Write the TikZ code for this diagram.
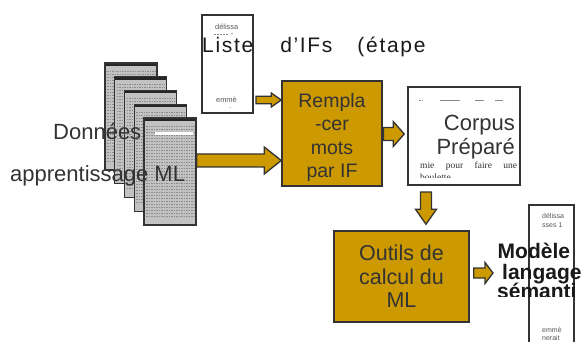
\documentclass[tikz,border=0pt]{standalone}
\usepackage{fontspec}
\setmainfont{Liberation Sans}
\newfontfamily\serifdoc{Liberation Serif}
\newfontfamily\spacedfont[LetterSpace=8]{Liberation Sans}
\usetikzlibrary{calc}
\definecolor{gold}{HTML}{CC9900}
\definecolor{ink}{HTML}{333333}
\definecolor{smallgray}{HTML}{555555}
\tikzset{
	box/.style={draw=ink, fill=gold, line width=1.5pt, inner sep=0pt},
	boxtext/.style={align=center, text=ink, inner sep=0pt},
	doc/.style={draw=ink, fill=white, line width=1.5pt, inner sep=0pt},
	page/.style={draw=black!80, fill=black!24, line width=1.3pt, minimum width=52pt, minimum height=107pt, inner sep=0pt,
		path picture={
			\fill[black!85] (path picture bounding box.north west) rectangle ([yshift=-3]path picture bounding box.north east);
			\foreach \k in {1,...,31}
				\draw[black!45, line width=0.6pt, dash pattern=on 1.5pt off 1pt] ([xshift=2,yshift={-5-3*\k}]path picture bounding box.north west) -- ([xshift=-2,yshift={-5-3*\k}]path picture bounding box.north east);
		}},
	blockarrow/.style={draw=ink, fill=gold, line width=1.3pt, line join=miter},
	small/.style={text=smallgray, font=\fontsize{7.4}{8.5}\selectfont, inner sep=0pt},
	big/.style={text=ink, font=\fontsize{22}{24}\selectfont, inner sep=0pt},
	modeltext/.style={anchor=base west, inner sep=0pt, font=\bfseries\fontsize{21}{22}\selectfont, text=black!90},
}
% horizontal block arrow: start, end, half shaft, half head, head length
\newcommand{\hblock}[5]{%
	\draw[blockarrow] let \p1=(#1), \p2=(#2) in
		(\x1,\y1-#3) -- (\x2-#5,\y1-#3) -- (\x2-#5,\y1-#4) -- (\x2,\y1)
		-- (\x2-#5,\y1+#4) -- (\x2-#5,\y1+#3) -- (\x1,\y1+#3) -- cycle;}
% downward block arrow
\newcommand{\vblock}[5]{%
	\draw[blockarrow] let \p1=(#1), \p2=(#2) in
		(\x1-#3,\y1) -- (\x1-#3,\y2+#5) -- (\x1-#4,\y2+#5) -- (\x1,\y2)
		-- (\x1+#4,\y2+#5) -- (\x1+#3,\y2+#5) -- (\x1+#3,\y1) -- cycle;}
\begin{document}
\begin{tikzpicture}[x=1pt,y=-1pt]
	\useasboundingbox (0,0) rectangle (581,342);
	\clip (0,0) rectangle (581,342);
	% training pages
	\foreach \i in {0,...,4}
		\node[page] (page\i) at ({131+9.75*\i},{116.5+13.75*\i}) {};
	\fill[white] ([xshift=12,yshift=-15]page4.north west) rectangle ([xshift=-4,yshift=-17.5]page4.north east);
	\node[big, anchor=base west] (donnees) at (53,140) {Données};
	\node[big, anchor=base west] (appr) at (10,182) {apprentissage ML};
	% list of IFs
	\node[doc, minimum width=51pt, minimum height=98pt] (liste) at (227.5,64) {};
	\node[small, anchor=base west] (lst1) at (215,29.5) {délissa};
	\draw[smallgray!70, line width=0.5pt, dash pattern=on 2pt off 1pt] (214,34) -- (229,34);
	\fill[smallgray] (232,33.5) circle (0.6);
	\node[small, anchor=base west] (lst2) at (216,103) {emmè};
	\fill[smallgray!70] (230,107.5) circle (0.5);
	\node[anchor=base west, inner sep=0pt, text=black!90, font=\fontsize{21}{24}\spacedfont] (listetitle) at (202,53)
		{Liste\hspace{27pt}d’IFs\hspace{25pt}(étape};
	% replacement step
	\node[box, minimum width=100pt, minimum height=105pt] (rempla) at (332,133.5) {};
	\node[boxtext, font=\fontsize{19.5}{23.5}\selectfont] (rempltxt) at ([yshift=-4]rempla.center)
		{Rempla\\-cer\\mots\\par IF};
	% prepared corpus
	\node[doc, minimum width=112pt, minimum height=98pt] (corpus) at (464,136) {};
	\foreach \a/\b in {419/420.5,421.5/423,440/460,475/484,495/503}
		\draw[smallgray!70, line width=0.6pt] (\a,100) -- (\b,100);
	\node[big, anchor=base east] (corpus1) at (515,131) {Corpus};
	\node[big, anchor=base east] (corpus2) at (515,155) {Préparé};
	\node[anchor=base west, inner sep=0pt, text=ink, font=\serifdoc\fontsize{9.5}{11}\selectfont] (corpus3) at (420,168)
		{\makebox[97pt][s]{mie pour faire une}};
	\begin{scope}
		\clip (410,160) rectangle (518,177.5);
		\node[anchor=base west, inner sep=0pt, text=ink, font=\serifdoc\fontsize{9.5}{11}\selectfont] (corpus4) at (420,180.5) {boulette};
	\end{scope}
	% ML tools
	\node[box, minimum width=135pt, minimum height=91pt] (outils) at (401.5,276.5) {};
	\node[boxtext, font=\fontsize{21.5}{23.5}\selectfont] (outiltxt) at (outils.center)
		{Outils de\\calcul du\\ML};
	% semantic language model
	\node[doc, minimum width=45pt, minimum height=160pt] (model) at (551.5,285) {};
	\node[small, anchor=base west, font=\fontsize{7}{8}\selectfont] (mod1) at (542,218) {délissa};
	\node[small, anchor=base west, font=\fontsize{7}{8}\selectfont] (mod2) at (542,227) {sses 1};
	\node[small, anchor=base west, font=\fontsize{7}{8}\selectfont] (mod3) at (542,332) {emmè};
	\node[small, anchor=base west, font=\fontsize{7}{8}\selectfont] (mod4) at (542,340.5) {nerait};
	\begin{scope}
		\clip (480,230) rectangle (581,296);
		\node[modeltext] (model1) at (497.5,258) {Modèle};
		\node[modeltext] (model2) at (502,279) {langage};
		\node[modeltext] (model3) at (497,298.5) {sémanti};
	\end{scope}
	% connectors
	\coordinate (a1) at (0,160.5);
	\coordinate (l1) at (256,100);
	\coordinate (c1) at (383.5,134);
	\coordinate (d1) at (426,192);
	\coordinate (e1) at (493,273);
	\hblock{page4.east |- a1}{rempla.west |- a1}{6.5pt}{13.5pt}{17pt}
	\hblock{l1}{rempla.west |- l1}{3.7pt}{7pt}{10pt}
	\hblock{c1}{[xshift=-3]corpus.west |- c1}{6.5pt}{12.5pt}{11pt}
	\vblock{d1}{[yshift=6]outils.north -| d1}{5.5pt}{10.5pt}{15pt}
	\hblock{[xshift=4]outils.east |- e1}{e1}{5pt}{10.5pt}{8pt}
\end{tikzpicture}
\end{document}
